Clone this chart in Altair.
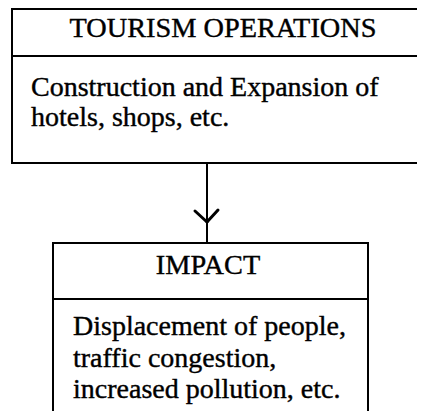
import altair as alt
import pandas as pd

# Diagram geometry (in page-pixel units, mapped through linear scales)
box_x0 = [12, 53]
box_x1 = [445, 368]
box_y0 = [9, 243]
box_y1 = [163, 440]
div_y = [56, 299]

header_text = ["TOURISM OPERATIONS", "IMPACT"]
header_x = [223, 208]
header_y = [37, 274]

body_text = ["Construction and Expansion of", "hotels, shops, etc.",
             "Displacement of people,", "traffic congestion,",
             "increased pollution, etc."]
body_x = [31, 31, 73, 73, 73]
body_y = [96, 126, 335, 367, 398]

arrow_x = [207]
arrow_y0 = [163]
arrow_y1 = [243]
chev_x0 = [195, 218]
chev_y0 = [211, 210]
chev_x1 = [207, 207]
chev_y1 = [222, 222]

X = alt.Scale(domain=[8, 417])
Y = alt.Scale(domain=[8, 411], reverse=True)

boxes = pd.DataFrame({"x0": box_x0, "x1": box_x1, "y0": box_y0, "y1": box_y1})
divs = pd.DataFrame({"x0": box_x0, "x1": box_x1, "y": div_y})
heads = pd.DataFrame({"t": header_text, "x": header_x, "y": header_y})
body = pd.DataFrame({"t": body_text, "x": body_x, "y": body_y})
stem = pd.DataFrame({"x": arrow_x, "y0": arrow_y0, "y1": arrow_y1})
chev = pd.DataFrame({"x0": chev_x0, "y0": chev_y0, "x1": chev_x1, "y1": chev_y1})

rects = alt.Chart(boxes).mark_rect(fill=None, stroke="black", strokeWidth=2, clip=True).encode(
    x=alt.X("x0:Q", scale=X, axis=None), x2="x1:Q",
    y=alt.Y("y0:Q", scale=Y, axis=None), y2="y1:Q")

dividers = alt.Chart(divs).mark_rule(color="black", strokeWidth=2, clip=True).encode(
    x=alt.X("x0:Q", scale=X, axis=None), x2="x1:Q",
    y=alt.Y("y:Q", scale=Y, axis=None))

stem_l = alt.Chart(stem).mark_rule(color="black", strokeWidth=2).encode(
    x=alt.X("x:Q", scale=X, axis=None),
    y=alt.Y("y0:Q", scale=Y, axis=None), y2="y1:Q")

chev_l = alt.Chart(chev).mark_rule(color="black", strokeWidth=3, strokeCap="round").encode(
    x=alt.X("x0:Q", scale=X, axis=None), x2="x1:Q",
    y=alt.Y("y0:Q", scale=Y, axis=None), y2="y1:Q")

head_t = alt.Chart(heads).mark_text(font="Liberation Serif", fontSize=28.3, align="center",
                                    baseline="alphabetic", color="black",
                                    stroke="black", strokeWidth=0.4).encode(
    x=alt.X("x:Q", scale=X, axis=None), y=alt.Y("y:Q", scale=Y, axis=None), text="t:N")

body_t = alt.Chart(body).mark_text(font="Liberation Serif", fontSize=28, align="left",
                                   baseline="alphabetic", color="black",
                                   stroke="black", strokeWidth=0.4).encode(
    x=alt.X("x:Q", scale=X, axis=None), y=alt.Y("y:Q", scale=Y, axis=None), text="t:N")

chart = alt.layer(rects, dividers, stem_l, chev_l, head_t, body_t).properties(
    width=409, height=403, padding=0, autosize=alt.AutoSizeParams(type="none"),
    background="white"
).configure_view(stroke=None)

chart.save("out.html", embed_options={"renderer": "svg", "actions": False})
